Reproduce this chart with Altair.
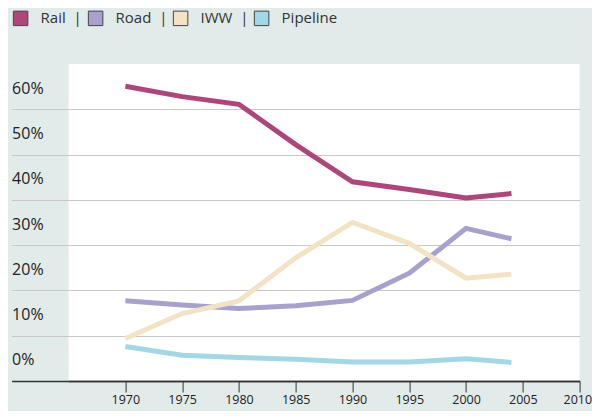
import altair as alt
import pandas as pd

years = [1970, 1975, 1980, 1985, 1990, 1995, 2000, 2004]
rail = [65.1, 62.8, 61.1, 52.2, 44.0, 42.3, 40.4, 41.4]
road = [17.7, 16.8, 16.0, 16.6, 17.8, 23.8, 33.7, 31.4]
iww = [9.4, 14.9, 17.7, 27.2, 35.0, 30.4, 22.7, 23.6]
pipeline = [7.6, 5.7, 5.2, 4.8, 4.2, 4.2, 4.9, 4.1]

series_names = ["Rail", "Road", "IWW", "Pipeline"]
series_colors = ["#b0457c", "#a8a1d0", "#f4e2c4", "#a1d8e7"]
x_ticks = [1970, 1975, 1980, 1985, 1990, 1995, 2000, 2005, 2010]
y_ticks = [0, 10, 20, 30, 40, 50, 60]

rows = []
for name, vals in zip(series_names, [rail, road, iww, pipeline]):
    for yr, v in zip(years, vals):
        rows.append({"year": yr, "value": v, "series": name, "mode": name})
df = pd.DataFrame(rows)

FONT = "Open Sans"

x = alt.X(
    "year:Q",
    scale=alt.Scale(domain=[1965, 2010], nice=False, zero=False),
    axis=alt.Axis(
        values=x_ticks, format="d", title=None, grid=False,
        domainColor="#333333", domainWidth=1.5,
        tickColor="#333333", tickSize=11, tickWidth=1,
        labelPadding=2, labelFontSize=12.5, labelColor="#222222", labelFont=FONT,
        labelFlush=True, labelFlushOffset=12,
    ),
)
y = alt.Y(
    "value:Q",
    scale=alt.Scale(domain=[0, 70], nice=False),
    axis=alt.Axis(
        values=y_ticks, title=None, domain=False,
        labelExpr="datum.value + '%'",
        grid=True,
        gridColor={"condition": {"test": "datum.value === 0", "value": "#333333"}, "value": "#c8c8c8"},
        gridWidth={"condition": {"test": "datum.value === 0", "value": 1.5}, "value": 1},
        tickColor={"condition": {"test": "datum.value === 0", "value": "#333333"}, "value": "#c8c8c8"},
        tickWidth={"condition": {"test": "datum.value === 0", "value": 1.5}, "value": 1},
        tickSize=57, labelPadding=0, labelAlign="left", labelBaseline="middle",
        labelOffset=-21, labelFontSize=16, labelColor="#222222", labelFont=FONT,
        labelFlush=False,
    ),
)

lines = alt.Chart(df).mark_line(strokeWidth=5, strokeCap="butt", strokeJoin="miter").encode(
    x=x, y=y,
    color=alt.Color("series:N", scale=alt.Scale(domain=series_names, range=series_colors), legend=None),
    order=alt.Order("year:Q"),
)

legend_layer = alt.Chart(df).mark_square(opacity=0).encode(
    x="year:Q", y="value:Q",
    fill=alt.Fill(
        "mode:N",
        scale=alt.Scale(domain=series_names, range=series_colors),
        legend=alt.Legend(
            title=None, orient="none", direction="horizontal",
            legendX=-56, legendY=-54,
            symbolType="square", symbolSize=210, symbolStrokeColor="#444444",
            symbolStrokeWidth=1, symbolOpacity=1,
            labelOffset=12, columnPadding=3,
            labelFontSize=15, labelColor="#333333", labelFont=FONT,
            labelExpr="datum.label == 'Pipeline' ? datum.label : datum.label + '\u00a0\u00a0|'",
        ),
    ),
)

chart = alt.layer(lines, legend_layer).resolve_scale(fill="independent", color="independent").properties(
    width=511, height=317,
    autosize=alt.AutoSizeParams(type="none"),
    padding={"left": 60.6, "top": 56, "right": 12, "bottom": 30},
    background="#e1ebe9",
).configure_view(fill="white", stroke=None)

chart.save("out.html", embed_options={"renderer": "svg", "actions": False})
